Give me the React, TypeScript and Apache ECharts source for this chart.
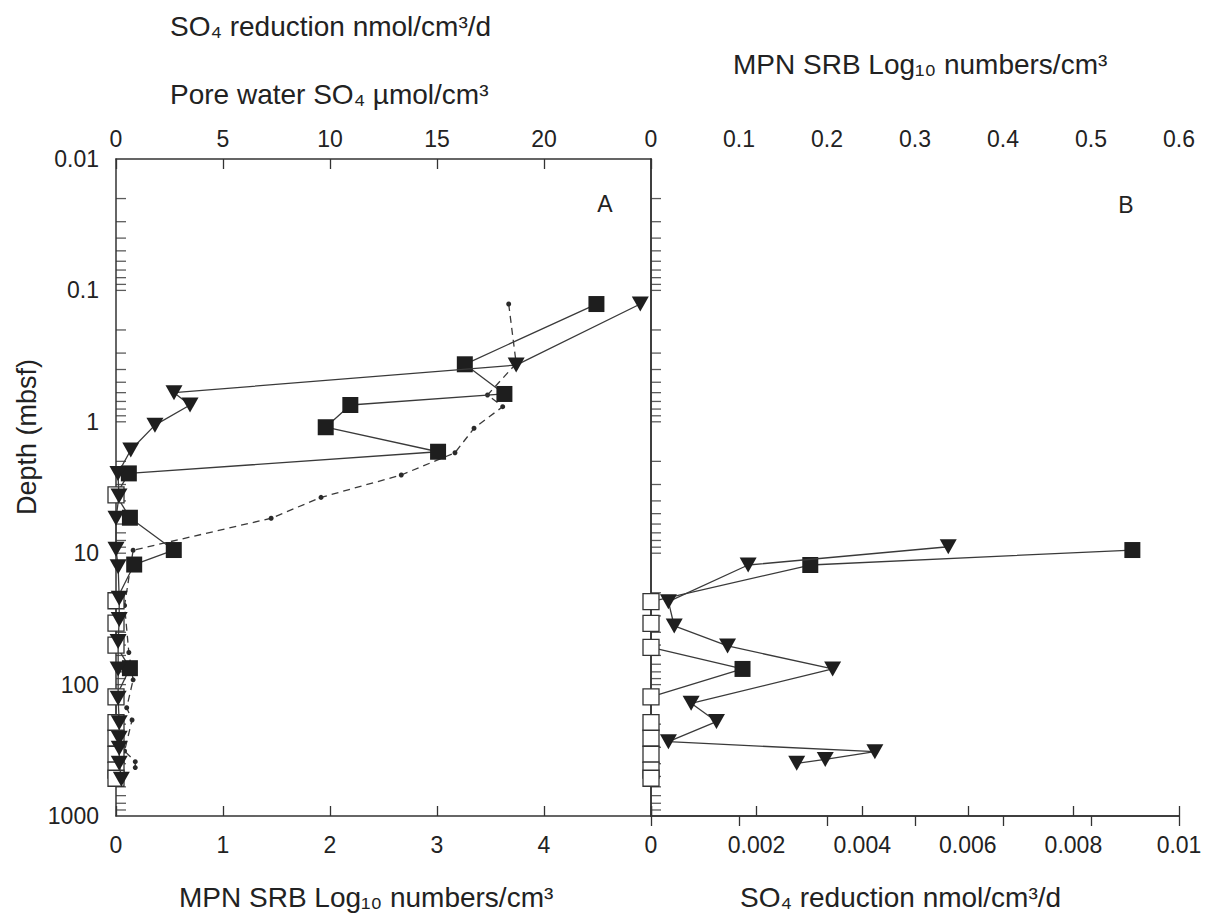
import React, { useEffect, useRef } from 'react';
import * as echarts from 'echarts';

// ---------- tick labels ----------
const depthTickLabels = ['0.01', '0.1', '1', '10', '100', '1000'];
const mpnATickLabels = ['0', '1', '2', '3', '4'];
const so4ATickLabels = ['0', '5', '10', '15', '20'];
const mpnBTickLabels = ['0', '0.1', '0.2', '0.3', '0.4', '0.5', '0.6'];
const so4BTickLabels = ['0', '0.002', '0.004', '0.006', '0.008', '0.01'];
// log minor / decade tick positions on the depth axes
const depthMinorTicks = [
  0.02, 0.03, 0.04, 0.05, 0.06, 0.07, 0.08, 0.09, 0.1,
  0.2, 0.3, 0.4, 0.5, 0.6, 0.7, 0.8, 0.9, 1,
  2, 3, 4, 5, 6, 7, 8, 9, 10,
  20, 30, 40, 50, 60, 70, 80, 90, 100,
  200, 300, 400, 500, 600, 700, 800, 900,
];

// ---------- Panel A ----------
// MPN SRB (log10 numbers/cm3), squares; 0 = open square
const mpnADepth = [0.127, 0.365, 0.614, 0.745, 1.10, 1.69, 2.47, 3.6, 5.37, 9.46, 12.2, 23, 34, 50, 75, 124, 195, 256, 339, 447, 516];
const mpnAValue = [4.49, 3.26, 3.63, 2.19, 1.96, 3.01, 0.12, 0, 0.13, 0.54, 0.17, 0, 0, 0, 0.13, 0, 0, 0, 0, 0, 0];
// SO4 reduction (nmol/cm3/d), triangles
const so4RedADepth = [0.127, 0.37, 0.60, 0.745, 1.06, 1.64, 2.47, 3.67, 5.42, 9.33, 12.7, 22, 32, 47, 76, 127, 195, 256, 305, 397, 525];
const so4RedAValue = [24.5, 18.7, 2.71, 3.46, 1.82, 0.69, 0.09, 0.14, 0, 0, 0.1, 0.15, 0.15, 0.1, 0.1, 0.1, 0.15, 0.15, 0.15, 0.15, 0.25];
// Pore water SO4 (umol/cm3), small dots, dashed
const poreDepth = [0.127, 0.36, 0.625, 0.767, 1.12, 1.72, 2.54, 3.76, 5.42, 9.5, 25, 57, 92, 150, 186, 320, 386, 428];
const poreValue = [18.35, 18.7, 17.36, 18.07, 16.73, 15.84, 13.33, 9.58, 7.25, 0.8, 0.4, 0.6, 0.8, 0.5, 0.75, 0.4, 0.9, 0.9];

// ---------- Panel B ----------
const mpnBDepth = [9.46, 12.3, 23.4, 34.2, 52, 76, 124, 195, 256, 339, 447, 516];
const mpnBValue = [0.547, 0.181, 0, 0, 0, 0.104, 0, 0, 0, 0, 0, 0];
const so4RedBDepth = [8.93, 12.3, 23.4, 35.8, 50.8, 76, 138.7, 191, 272, 324, 371, 397];
const so4RedBValue = [0.00563, 0.00184, 0.00033, 0.00044, 0.00145, 0.00344, 0.00076, 0.00124, 0.00033, 0.00424, 0.0033, 0.00276];

const FONT = '"Liberation Sans", Arial, Helvetica, sans-serif';
const INK = '#222';
const LINE = '#3a3a3a';

const axisLine = { show: true, lineStyle: { color: '#333', width: 1.5 } };

function xAxisDef(gridIndex: number, position: 'top' | 'bottom', max: number, interval: number, labels: string[], margin: number) {
  return {
    type: 'value',
    gridIndex,
    position,
    min: 0,
    max,
    interval,
    axisLine,
    splitLine: { show: false },
    axisTick: { show: true, inside: true, length: 10, lineStyle: { color: '#333', width: 1.3 } },
    axisLabel: {
      show: true,
      margin,
      color: INK,
      fontSize: 23,
      fontFamily: FONT,
      formatter: (v: number) => {
        const i = Math.round(v / interval);
        return labels[i] ?? '';
      },
    },
  };
}

function yAxisDef(gridIndex: number, showLabels: boolean) {
  return {
    type: 'log',
    logBase: 10,
    gridIndex,
    min: 0.01,
    max: 1000,
    inverse: true,
    position: 'left',
    axisLine,
    splitLine: { show: false },
    axisTick: { show: false },
    minorTick: { show: false },
    axisLabel: {
      show: showLabels,
      margin: 17,
      color: INK,
      fontSize: 23,
      fontFamily: FONT,
      formatter: (v: number) => depthTickLabels[Math.round(Math.log10(v)) + 2] ?? '',
    },
  };
}

function squareSeries(xAxisIndex: number, yAxisIndex: number, vals: number[], depths: number[]) {
  return {
    type: 'line',
    xAxisIndex,
    yAxisIndex,
    clip: false,
    symbol: 'rect',
    symbolSize: 16,
    showAllSymbol: true,
    lineStyle: { color: LINE, width: 1.3 },
    itemStyle: { color: '#1e1e1e' },
    z: 3,
    data: vals.map((v, i) =>
      v === 0
        ? { value: [v, depths[i]], itemStyle: { color: '#fff', borderColor: '#333', borderWidth: 1.3 } }
        : { value: [v, depths[i]] }
    ),
  };
}

function triangleSeries(xAxisIndex: number, yAxisIndex: number, vals: number[], depths: number[]) {
  return {
    type: 'line',
    xAxisIndex,
    yAxisIndex,
    clip: false,
    symbol: 'triangle',
    symbolRotate: 180,
    symbolSize: [17, 15],
    showAllSymbol: true,
    lineStyle: { color: LINE, width: 1.3 },
    itemStyle: { color: '#1e1e1e' },
    z: 4,
    data: vals.map((v, i) => [v, depths[i]]),
  };
}

function tickSeries(xAxisIndex: number, yAxisIndex: number) {
  return {
    type: 'scatter',
    xAxisIndex,
    yAxisIndex,
    silent: true,
    symbol: 'rect',
    symbolSize: [10, 1.3],
    symbolOffset: [5, 0],
    itemStyle: { color: '#333' },
    z: 1,
    data: depthMinorTicks.map((d) => [0, d]),
  };
}

function textEl(text: string, x: number, y: number, size: number, align = 'left', rotation = 0) {
  return {
    type: 'text',
    x,
    y,
    rotation,
    style: {
      text,
      fill: INK,
      fontSize: size,
      fontFamily: FONT,
      align,
      verticalAlign: 'middle',
    },
  };
}

const option = {
  animation: false,
  grid: [
    { left: 116, top: 159, width: 535, height: 657 },
    { left: 651, top: 159, width: 528, height: 657 },
  ],
  xAxis: [
    xAxisDef(0, 'bottom', 5, 1, mpnATickLabels, 17),
    xAxisDef(0, 'top', 25, 5, so4ATickLabels, 9),
    xAxisDef(1, 'top', 0.6, 0.1, mpnBTickLabels, 9),
    xAxisDef(1, 'bottom', 0.01, 0.002, so4BTickLabels, 17),
  ],
  yAxis: [
    yAxisDef(0, true),
    yAxisDef(1, false),
    {
      type: 'value',
      gridIndex: 1,
      position: 'right',
      min: 0,
      max: 1,
      axisLine,
      axisTick: { show: false },
      axisLabel: { show: false },
      splitLine: { show: false },
    },
  ],
  series: [
    tickSeries(0, 0),
    tickSeries(3, 1),
    {
      type: 'line',
      xAxisIndex: 1,
      yAxisIndex: 0,
      clip: false,
      symbol: 'circle',
      symbolSize: 5,
      showAllSymbol: true,
      lineStyle: { color: LINE, width: 1.3, type: [7, 5] },
      itemStyle: { color: '#2a2a2a' },
      z: 2,
      data: poreValue.map((v, i) => [v, poreDepth[i]]),
    },
    squareSeries(0, 0, mpnAValue, mpnADepth),
    triangleSeries(1, 0, so4RedAValue, so4RedADepth),
    squareSeries(2, 1, mpnBValue, mpnBDepth),
    triangleSeries(3, 1, so4RedBValue, so4RedBDepth),
  ],
  graphic: [
    textEl('SO₄ reduction nmol/cm³/d', 170, 26, 28),
    textEl('Pore water SO₄ µmol/cm³', 170, 94, 28),
    textEl('MPN SRB Log₁₀ numbers/cm³', 733, 64, 28),
    textEl('MPN SRB Log₁₀ numbers/cm³', 179, 897, 28),
    textEl('SO₄ reduction nmol/cm³/d', 740, 897, 28),
    textEl('Depth (mbsf)', 27, 437, 27, 'center', Math.PI / 2),
    textEl('A', 605, 204, 23, 'center'),
    textEl('B', 1126, 205, 23, 'center'),
  ],
};

export default function App() {
  const ref = useRef<HTMLDivElement>(null);
  useEffect(() => {
    document.body.style.margin = '0';
    const chart = echarts.init(ref.current as HTMLDivElement, null, { renderer: 'svg' });
    chart.setOption(option as any);
    return () => chart.dispose();
  }, []);
  return <div ref={ref} style={{ width: 1208, height: 918 }} />;
}
